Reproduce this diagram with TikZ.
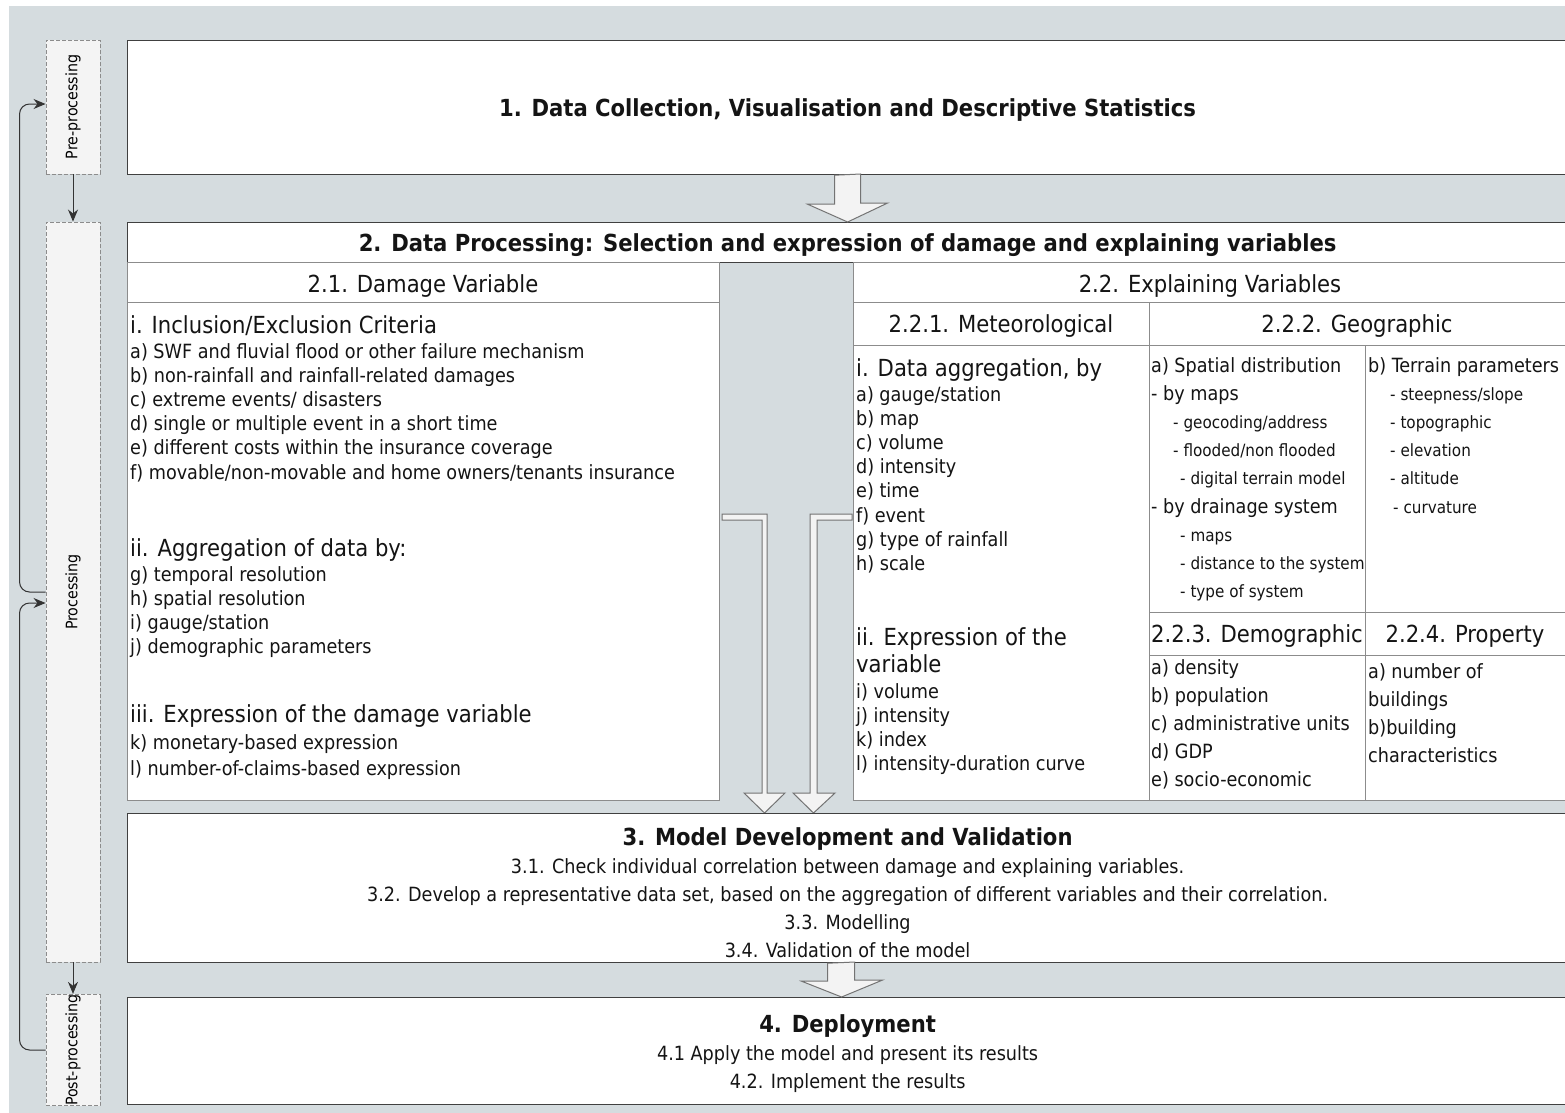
\documentclass[tikz,border=0pt]{standalone}
\usepackage{fontspec}
\setmainfont{DejaVu Sans Condensed}
\usepackage{tikz}
\usetikzlibrary{arrows.meta, positioning, calc}
\usepackage{xcolor}

\definecolor{bggray}{RGB}{213,220,223}
\definecolor{sidefill}{RGB}{244,244,244}
\definecolor{arrowfill}{RGB}{243,243,243}
\definecolor{inkgray}{RGB}{20,20,20}

\newcommand{\headfont}{\fontsize{23.5}{27}\selectfont}
\newcommand{\bodyfont}{\fontsize{19.6}{24.2}\selectfont}
\newcommand{\geofont}{\fontsize{19.6}{28.2}\selectfont}
\newcommand{\geobig}{\fontsize{19.6}{28.2}\selectfont}
\newcommand{\geosmall}{\fontsize{16.9}{28.2}\selectfont}
\newcommand{\sidefont}{\fontsize{15.8}{17}\selectfont}

\tikzset{
  mainbox/.style={draw=black!75, line width=1.2pt, fill=white, anchor=north west,
    inner sep=0pt, text=inkgray},
  cell/.style={draw=black!45, line width=1pt, fill=white},
  sidebox/.style={draw=black!45, dash pattern=on 4pt off 2pt, line width=0.9pt,
    fill=sidefill, minimum width=54pt, inner sep=0pt, font=\sidefont},
  conn/.style={draw=black!80, line width=1pt, -{Stealth[length=12pt,width=10pt]}},
  blockarrow/.style={draw=black!55, line width=1pt, fill=arrowfill},
  txt/.style={anchor=north west, align=left, inner sep=0pt, font=\bodyfont, text=inkgray},
  cellhead/.style={inner sep=0pt, text depth=0pt, font=\headfont, text=inkgray},
}

\begin{document}
\begin{tikzpicture}[x=1pt, y=-1pt]
    \useasboundingbox (0,0) rectangle (1565,1112);
    % Background
    \fill[white] (0,0) rectangle (1565,1112);
    \fill[bggray] (9,6) rectangle (1567,1114);

    % Phases on the left
    \node[sidebox, minimum height=134pt] (pre) at (73,107) {\rotatebox{90}{Pre-processing}};
    \node[sidebox, minimum height=740pt] (proc) at (73,592) {\rotatebox{90}{Processing}};
    \node[sidebox, minimum height=108pt] (post) at (73,1050) {\rotatebox{90}{Post-processing}};
    \draw[conn] (pre) -- (proc);
    \draw[conn] (proc) -- (post);
    % Feedback loops
    \draw[conn, rounded corners=10pt] (proc.west) -- ++(-26,0) |- ([yshift=3pt]pre.west);
    \draw[conn, rounded corners=10pt] (post.west) -- ++(-26,0) |- ([yshift=-11pt]proc.west);

    % 1. Data collection
    \node[mainbox, text depth=0pt, minimum width=1440pt, minimum height=134pt] (collect) at (127,40)
        {\headfont\bfseries 1. Data Collection, Visualisation and Descriptive Statistics};

    % 2. Data processing
    \node[mainbox, text depth=0pt, minimum width=1440pt, minimum height=40pt] (dpheader) at (127,222)
        {\headfont\bfseries 2. Data Processing: Selection and expression of damage and explaining variables};
    \draw[blockarrow] ([xshift=-13pt]collect.south) -- ++(0,29) -- ++(-27,0)
        -- (dpheader.north) -- ++(40,-19) -- ++(-27,0) -- ++(0,-29) -- cycle;

    % 2.1 damage variable
    \draw[cell] (127,262) rectangle (719,302);
    \draw[cell] (127,302) rectangle (719,800);
    \node[cellhead] (dmghead) at (423,284) {2.1. Damage Variable};
    \node[txt, font=\headfont] (incl) at (130,315) {i. Inclusion/Exclusion Criteria};
    \node[txt] (incllist) at (130,343) {a) SWF and fluvial flood or other failure mechanism\\
        b) non-rainfall and rainfall-related damages\\
        c) extreme events/ disasters\\
        d) single or multiple event in a short time\\
        e) different costs within the insurance coverage\\
        f) movable/non-movable and home owners/tenants insurance};
    \node[txt, font=\headfont] (aggr) at (130,538) {ii. Aggregation of data by:};
    \node[txt] (aggrlist) at (130,566) {g) temporal resolution\\
        h) spatial resolution\\
        i) gauge/station\\
        j) demographic parameters};
    \node[txt, font=\headfont] (dexpr) at (130,704) {iii. Expression of the damage variable};
    \node[txt, font=\fontsize{19.6}{26}\selectfont] (dexprlist) at (130,734) {k) monetary-based expression\\
        l) number-of-claims-based expression};

    % 2.2 explaining variables
    \draw[cell] (853,262) rectangle (1567,302);
    \node[cellhead] (exphead) at (1210,284) {2.2. Explaining Variables};

    % 2.2.1 meteorological
    \draw[cell] (853,302) rectangle (1149,345);
    \draw[cell] (853,345) rectangle (1149,800);
    \node[cellhead] (methead) at (1001,324) {2.2.1. Meteorological};
    \node[txt, font=\headfont] (metagg) at (856,358) {i. Data aggregation, by};
    \node[txt] (metagglist) at (856,386) {a) gauge/station\\
        b) map\\
        c) volume\\
        d) intensity\\
        e) time\\
        f) event\\
        g) type of rainfall\\
        h) scale};
    \node[txt, font=\headfont] (metexpr) at (856,627) {ii. Expression of the\\variable};
    \node[txt] (metexprlist) at (856,683) {i) volume\\
        j) intensity\\
        k) index\\
        l) intensity-duration curve};

    % 2.2.2 geographic
    \draw[cell] (1149,302) rectangle (1567,345);
    \draw[cell] (1149,345) rectangle (1365,612);
    \draw[cell] (1365,345) rectangle (1567,612);
    \node[cellhead] (geohead) at (1357,324) {2.2.2. Geographic};
    \node[txt, font=\geofont] (spatial) at (1151,357) {{\geobig a) Spatial distribution}\\
        {\geobig - by maps}\\
        \hspace*{22pt}{\geosmall - geocoding/address}\\
        \hspace*{22pt}{\geosmall - flooded/non flooded}\\
        \hspace*{29pt}{\geosmall - digital terrain model}\\
        {\geobig - by drainage system}\\
        \hspace*{29pt}{\geosmall - maps}\\
        \hspace*{29pt}{\geosmall - distance to the system}\\
        \hspace*{29pt}{\geosmall - type of system}};
    \node[txt, font=\geofont] (terrain) at (1368,357) {{\geobig b) Terrain parameters}\\
        \hspace*{22pt}{\geosmall - steepness/slope}\\
        \hspace*{22pt}{\geosmall - topographic}\\
        \hspace*{22pt}{\geosmall - elevation}\\
        \hspace*{22pt}{\geosmall - altitude}\\
        \hspace*{25pt}{\geosmall - curvature}};

    % 2.2.3 demographic and 2.2.4 property
    \draw[cell] (1149,612) rectangle (1365,655);
    \draw[cell] (1149,655) rectangle (1365,800);
    \draw[cell] (1365,612) rectangle (1567,655);
    \draw[cell] (1365,655) rectangle (1567,800);
    \node[cellhead] (demohead) at (1257,634) {2.2.3. Demographic};
    \node[cellhead] (prophead) at (1465,634) {2.2.4. Property};
    \node[txt, font=\geofont] (demolist) at (1151,659) {a) density\\
        b) population\\
        c) administrative units\\
        d) GDP\\
        e) socio-economic};
    \node[txt, font=\geofont] (proplist) at (1368,663) {a) number of\\
        buildings\\
        b)building\\
        characteristics};

    % Arrows through the gap into 3.
    \draw[blockarrow] (722,514) -- (767,514) -- (767,793) -- (785,793) -- (764.5,813)
        -- (744,793) -- (762,793) -- (762,520) -- (722,520) -- cycle;
    \draw[blockarrow] (852,514) -- (810,514) -- (810,793) -- (793,793) -- (813.5,813)
        -- (835,793) -- (817,793) -- (817,520) -- (852,520) -- cycle;

    % 3. Model development
    \node[mainbox, minimum width=1440pt, minimum height=149pt, align=center,
        font=\fontsize{19.6}{28}\selectfont] (model) at (127,813)
        {\rule{0pt}{28pt}{\headfont\bfseries 3. Model Development and Validation}\\
        3.1. Check individual correlation between damage and explaining variables.\\
        3.2. Develop a representative data set, based on the aggregation of different variables and their correlation.\\
        3.3. Modelling\\
        3.4. Validation of the model};

    % 4. Deployment
    \node[mainbox, minimum width=1440pt, minimum height=107pt, align=center,
        font=\fontsize{19.6}{28}\selectfont] (deploy) at (127,997)
        {\rule{0pt}{22pt}{\headfont\bfseries 4. Deployment}\\
        4.1 Apply the model and present its results\\
        4.2. Implement the results};
    \draw[blockarrow] ([xshift=-20pt]model.south) -- ++(0,18) -- ++(-26,0)
        -- ([xshift=-6pt]deploy.north) -- ++(41,-17) -- ++(-28,0) -- ++(0,-18) -- cycle;
\end{tikzpicture}
\end{document}
